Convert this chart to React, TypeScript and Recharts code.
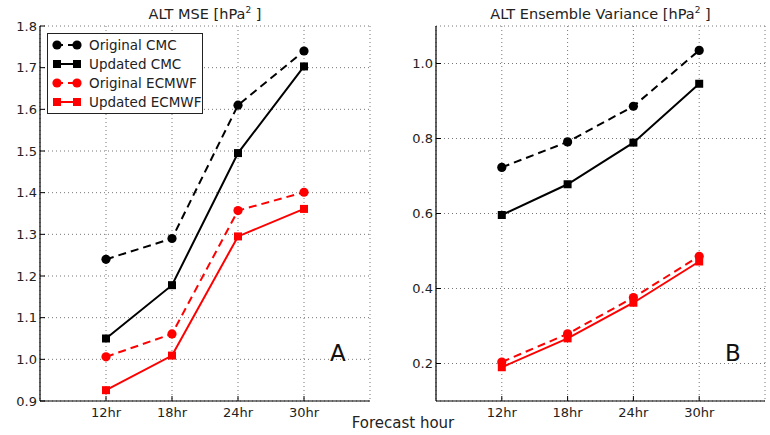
import React from 'react';
import {
  LineChart,
  Line,
  XAxis,
  YAxis,
  CartesianGrid,
} from 'recharts';

const hours = ['12hr', '18hr', '24hr', '30hr'];

// ALT MSE panel (A)
const mseOriginalCmc = [1.24, 1.29, 1.61, 1.74];
const mseUpdatedCmc = [1.05, 1.178, 1.495, 1.703];
const mseOriginalEcmwf = [1.006, 1.061, 1.357, 1.401];
const mseUpdatedEcmwf = [0.926, 1.009, 1.295, 1.361];
const mseTicks = [0.9, 1.0, 1.1, 1.2, 1.3, 1.4, 1.5, 1.6, 1.7, 1.8];

// ALT ensemble variance panel (B)
const varOriginalCmc = [0.723, 0.791, 0.886, 1.035];
const varUpdatedCmc = [0.596, 0.678, 0.789, 0.946];
const varOriginalEcmwf = [0.204, 0.279, 0.376, 0.486];
const varUpdatedEcmwf = [0.19, 0.267, 0.362, 0.472];
const varTicks = [0.2, 0.4, 0.6, 0.8, 1.0];

const seriesNames = ['Original CMC', 'Updated CMC', 'Original ECMWF', 'Updated ECMWF'];
const seriesColors = ['#000000', '#000000', '#ff0000', '#ff0000'];
const seriesDashed = [true, false, true, false];
const seriesSquare = [false, true, false, true];

const FONT = '"DejaVu Sans", sans-serif';
const DASH = '8 5';
const xTicks = [1, 2, 3, 4];

function buildRows(series: number[][]) {
  return hours.map((h, i) => ({
    x: i + 1,
    label: h,
    s0: series[0][i],
    s1: series[1][i],
    s2: series[2][i],
    s3: series[3][i],
  }));
}

const mseData = buildRows([mseOriginalCmc, mseUpdatedCmc, mseOriginalEcmwf, mseUpdatedEcmwf]);
const varData = buildRows([varOriginalCmc, varUpdatedCmc, varOriginalEcmwf, varUpdatedEcmwf]);

function makeDot(color: string, square: boolean) {
  return (props: any) => {
    const { cx, cy, index } = props;
    if (cx == null || cy == null) return <g key={index} />;
    return square ? (
      <rect key={index} x={cx - 4} y={cy - 4} width={8} height={8} fill={color} />
    ) : (
      <circle key={index} cx={cx} cy={cy} r={4.6} fill={color} />
    );
  };
}

const tickStyle = { fontSize: 13, fill: '#222', fontFamily: FONT };
const frameLine = { stroke: '#000', strokeWidth: 1.2 };
const tickMark = { stroke: '#000', strokeWidth: 1 };

interface PanelProps {
  title: string;
  data: any[];
  yDomain: [number, number];
  yTicks: number[];
  letter: string;
  left: number;
  yWidth: number;
  rightMargin: number;
}

function Panel({ title, data, yDomain, yTicks, letter, left, yWidth, rightMargin }: PanelProps) {
  const plotLeft = yWidth;
  const plotRight = 385 - rightMargin;
  const center = (plotLeft + plotRight) / 2;
  return (
    <div style={{ position: 'absolute', left, top: 0, width: 385, height: 435 }}>
      <LineChart
        width={385}
        height={435}
        data={data}
        margin={{ top: 26, right: rightMargin, bottom: 0, left: 0 }}
      >
        <CartesianGrid stroke="#777" strokeDasharray="1 3" />
        <XAxis
          dataKey="x"
          type="number"
          domain={[0, 5]}
          ticks={xTicks}
          tickFormatter={(v: number) => hours[v - 1]}
          height={34}
          axisLine={frameLine}
          tickLine={tickMark}
          tickSize={-5}
          tickMargin={12}
          tick={tickStyle}
        />
        <XAxis
          xAxisId="t"
          orientation="top"
          dataKey="x"
          type="number"
          domain={[0, 5]}
          ticks={xTicks}
          tickFormatter={() => ''}
          height={0}
          axisLine={frameLine}
          tickLine={tickMark}
          tickSize={-5}
        />
        <YAxis
          type="number"
          domain={yDomain}
          ticks={yTicks}
          tickFormatter={(v: number) => v.toFixed(1)}
          width={yWidth}
          axisLine={frameLine}
          tickLine={tickMark}
          tickSize={-5}
          tickMargin={8}
          tick={tickStyle}
          allowDataOverflow
        />
        <YAxis
          yAxisId="r"
          orientation="right"
          type="number"
          domain={yDomain}
          ticks={yTicks}
          tickFormatter={() => ''}
          width={0}
          axisLine={frameLine}
          tickLine={tickMark}
          tickSize={-5}
          allowDataOverflow
        />
        {[0, 1, 2, 3].map((i) => (
          <Line
            key={i}
            dataKey={`s${i}`}
            name={seriesNames[i]}
            stroke={seriesColors[i]}
            strokeWidth={2}
            strokeDasharray={seriesDashed[i] ? DASH : undefined}
            type="linear"
            dot={makeDot(seriesColors[i], seriesSquare[i])}
            activeDot={false}
            isAnimationActive={false}
          />
        ))}
      </LineChart>
      <div
        style={{
          position: 'absolute',
          top: 5,
          left: center - 150,
          width: 300,
          textAlign: 'center',
          fontFamily: FONT,
          fontSize: 14.5,
          color: '#222',
        }}
      >
        {title} [hPa<sup style={{ fontSize: 9 }}>2</sup> ]
      </div>
      <div
        style={{
          position: 'absolute',
          left: plotRight - 40,
          top: 340,
          fontFamily: FONT,
          fontSize: 23,
          color: '#111',
        }}
      >
        {letter}
      </div>
    </div>
  );
}

function LegendBox() {
  return (
    <div
      style={{
        position: 'absolute',
        left: 47,
        top: 33,
        width: 154,
        height: 79,
        border: '1px solid #222',
        background: '#fff',
        fontFamily: FONT,
        fontSize: 13.5,
        color: '#222',
      }}
    >
      {seriesNames.map((name, i) => (
        <div
          key={name}
          style={{
            position: 'absolute',
            left: 4,
            top: 1 + i * 19,
            height: 19,
            display: 'flex',
            alignItems: 'center',
            whiteSpace: 'nowrap',
          }}
        >
          <svg width={30} height={14} style={{ marginRight: 7 }}>
            <line
              x1={5}
              y1={7}
              x2={25}
              y2={7}
              stroke={seriesColors[i]}
              strokeWidth={2}
              strokeDasharray={seriesDashed[i] ? '6 5' : undefined}
            />
            {[5, 25].map((x) =>
              seriesSquare[i] ? (
                <rect key={x} x={x - 4} y={3} width={8} height={8} fill={seriesColors[i]} />
              ) : (
                <circle key={x} cx={x} cy={7} r={4.6} fill={seriesColors[i]} />
              )
            )}
          </svg>
          <span>{name}</span>
        </div>
      ))}
    </div>
  );
}

export default function App() {
  return (
    <div
      style={{
        position: 'absolute',
        left: 0,
        top: 0,
        width: 770,
        height: 435,
        background: '#fff',
        overflow: 'hidden',
      }}
    >
      <Panel
        title="ALT MSE"
        data={mseData}
        yDomain={[0.9, 1.8]}
        yTicks={mseTicks}
        letter="A"
        left={0}
        yWidth={40}
        rightMargin={15}
      />
      <Panel
        title="ALT Ensemble Variance"
        data={varData}
        yDomain={[0.1, 1.1]}
        yTicks={varTicks}
        letter="B"
        left={385}
        yWidth={51}
        rightMargin={5}
      />
      <LegendBox />
      <div
        style={{
          position: 'absolute',
          left: 303,
          top: 414,
          width: 200,
          textAlign: 'center',
          fontFamily: FONT,
          fontSize: 15,
          color: '#222',
        }}
      >
        Forecast hour
      </div>
    </div>
  );
}
